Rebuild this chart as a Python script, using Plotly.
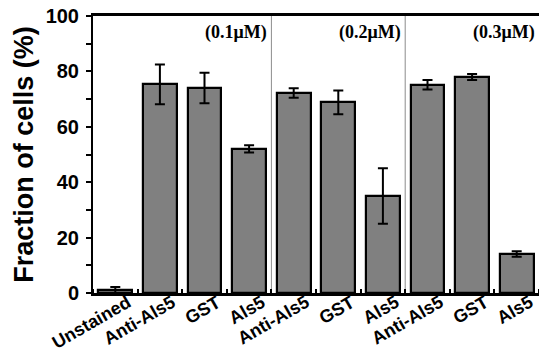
import plotly.graph_objects as go

categories = ["Unstained", "Anti-Als5", "GST", "Als5", "Anti-Als5", "GST", "Als5",
              "Anti-Als5", "GST", "Als5"]
values = [1.0, 75.3, 74.0, 52.0, 72.2, 68.8, 35.0, 75.2, 78.0, 14.1]
errors = [1.2, 7.2, 5.5, 1.3, 1.7, 4.3, 10.0, 1.7, 1.1, 1.0]
group_labels = ["(0.1\u03bcM)", "(0.2\u03bcM)", "(0.3\u03bcM)"]
group_sizes = [3, 3, 3]  # categories after "Unstained"
y_ticks = [0, 20, 40, 60, 80, 100]

xpos = list(range(len(categories)))
sans = "Liberation Sans, Arial, sans-serif"
serif = "Liberation Serif, Times New Roman, serif"

fig = go.Figure(go.Bar(
    x=xpos, y=values, width=0.76,
    marker=dict(color="#808080", line=dict(color="black", width=2.2)),
    error_y=dict(type="data", array=errors, color="black", thickness=2, width=5),
))

# group separators and concentration labels
start = 0.5
for i, (lab, n) in enumerate(zip(group_labels, group_sizes)):
    end = start + n
    if i > 0:
        fig.add_shape(type="line", xref="x", yref="paper", x0=start, x1=start, y0=0, y1=1,
                      line=dict(color="#8c8c8c", width=1), layer="below")
    fig.add_annotation(x=end, y=94, xref="x", yref="y", text=lab, showarrow=False,
                       xanchor="right", xshift=-2,
                       font=dict(family=serif, size=18, color="black", weight="bold"))
    start = end

# rotated category labels
for xp, lab in zip(xpos, categories):
    fig.add_annotation(x=xp, y=0, xref="x", yref="y", text=lab, showarrow=False,
                       textangle=-30, xanchor="right", yanchor="top",
                       xshift=22, yshift=4,
                       font=dict(family=sans, size=18, color="black", weight="bold"))

fig.update_layout(
    width=539, height=352,
    margin=dict(l=93, r=0, t=16, b=59, autoexpand=False),
    plot_bgcolor="white", paper_bgcolor="white",
    showlegend=False,
    bargap=0,
)
fig.update_xaxes(
    range=[-0.5, len(categories) - 0.5],
    tickmode="array", tickvals=xpos, showticklabels=False, ticks="",
    showline=True, linecolor="black", linewidth=2.5, mirror=True,
    showgrid=False, zeroline=False,
    minor=dict(tick0=0.5, dtick=1, ticks="inside", ticklen=4, tickwidth=1.5, tickcolor="black"),
)
fig.update_yaxes(
    range=[0, 100],
    tickmode="array", tickvals=y_ticks,
    ticks="outside", ticklen=5, tickwidth=2, tickcolor="black",
    ticklabelstandoff=3, ticklabeloverflow="allow",
    tickfont=dict(family=sans, size=20, color="black", weight="bold"),
    showline=True, linecolor="black", linewidth=2,
    showgrid=False, zeroline=False,
    minor=dict(dtick=10, tick0=0, ticks="outside", ticklen=5, tickwidth=1.5, tickcolor="black"),
    title=dict(text="Fraction of cells (%)", standoff=4,
               font=dict(family=sans, size=27, color="black", weight="bold")),
)

fig.write_html("out.html", config={"displayModeBar": False},
               post_script="document.body.style.margin='0';document.body.style.overflow='hidden';")
